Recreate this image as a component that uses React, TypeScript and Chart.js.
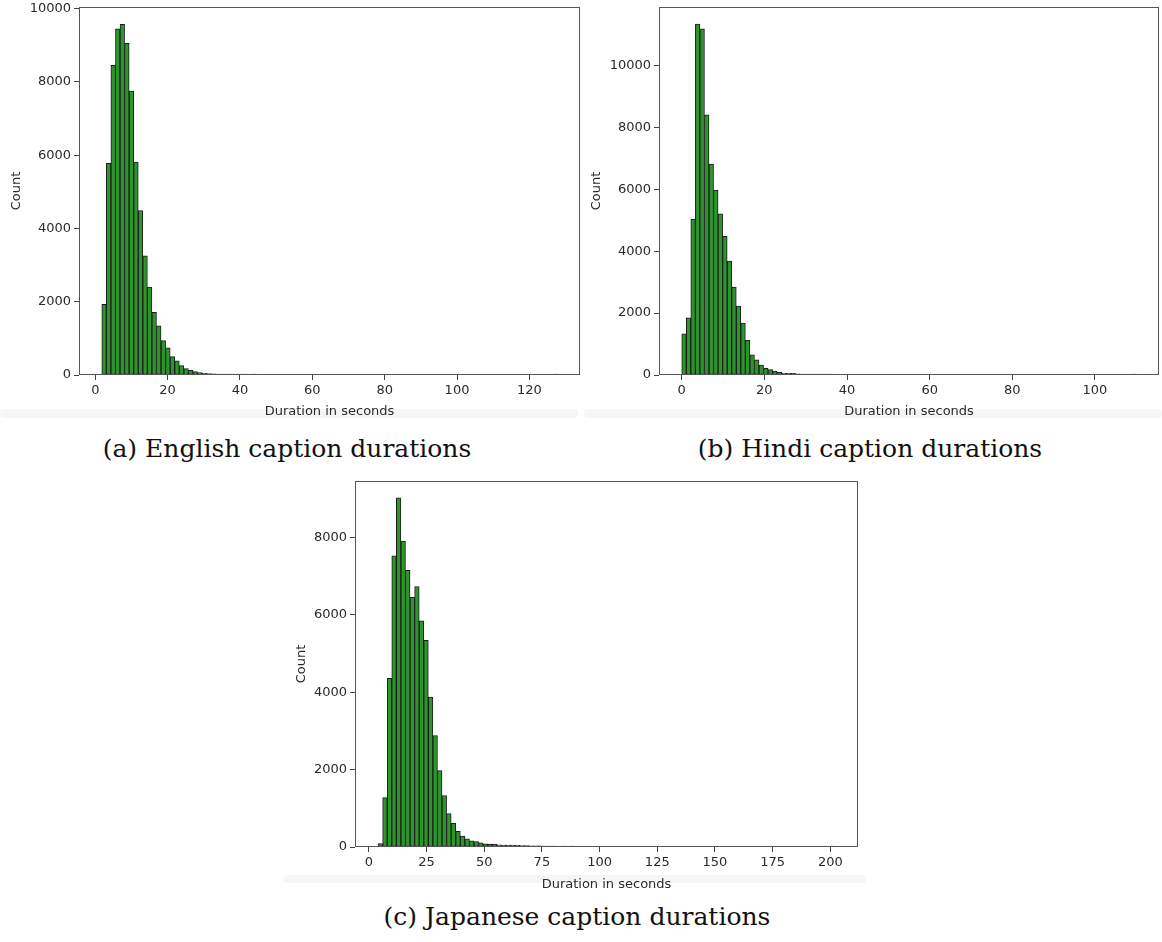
import React, { useEffect, useRef } from "react";
import { Chart, registerables } from "chart.js";

Chart.register(...registerables);

// ---------- data ----------
// (a) English caption durations: 100 bins, width 1.26 s starting at 1.8 s
const englishBinStart = 1.8;
const englishBinWidth = 1.26;
const englishCounts = [
  1930, 5780, 8450, 9450, 9570, 9050, 7750, 5810, 4490, 3250,
  2400, 1710, 1340, 940, 740, 500, 390, 260, 175, 130,
  92, 66, 48, 42, 35, 28, 22, 18, 14, 12,
  10, 8, 0, 6, 0, 0, 0, 0, 0, 0,
  0, 0, 0, 0, 0, 0, 0, 0, 0, 0,
  0, 0, 0, 0, 0, 0, 0, 0, 0, 0,
  0, 0, 0, 0, 0, 0, 0, 0, 0, 0,
  0, 0, 0, 0, 0, 0, 0, 0, 0, 0,
  0, 0, 0, 0, 0, 0, 0, 0, 0, 0,
  0, 0, 0, 0, 0, 0, 0, 0, 0, 1,
];
const englishXTicks = [0, 20, 40, 60, 80, 100, 120];
const englishYTicks = [0, 2000, 4000, 6000, 8000, 10000];

// (b) Hindi caption durations: 100 bins, width 1.1 s starting at 0 s
const hindiBinStart = 0;
const hindiBinWidth = 1.1;
const hindiCounts = [
  1330, 1850, 5040, 11340, 11190, 8410, 6820, 5980, 5210, 4480,
  3680, 2840, 2230, 1680, 1120, 655, 490, 324, 216, 173,
  130, 86, 65, 54, 50, 40, 32, 28, 25, 20,
  15, 12, 10, 0, 0, 0, 0, 0, 0, 0,
  0, 0, 0, 0, 0, 0, 0, 0, 0, 0,
  0, 0, 0, 0, 0, 0, 0, 0, 0, 0,
  0, 0, 0, 0, 0, 0, 0, 0, 0, 0,
  0, 0, 0, 0, 0, 0, 0, 0, 0, 0,
  0, 0, 0, 0, 0, 0, 0, 0, 0, 0,
  0, 0, 0, 0, 0, 0, 0, 0, 0, 1,
];
const hindiXTicks = [0, 20, 40, 60, 80, 100];
const hindiYTicks = [0, 2000, 4000, 6000, 8000, 10000];

// (c) Japanese caption durations: 100 bins, width 1.98 s starting at 4.0 s
const japaneseBinStart = 4.0;
const japaneseBinWidth = 1.98;
const japaneseCounts = [
  86, 1276, 4360, 7520, 9020, 7900, 7150, 6450, 6730, 5840,
  5340, 3870, 2880, 1975, 1330, 862, 612, 405, 280, 210,
  160, 140, 105, 80, 78, 75, 55, 52, 50, 48,
  45, 35, 35, 30, 30, 28, 25, 20, 15, 0,
  12, 0, 10, 0, 0, 0, 0, 0, 0, 0,
  0, 0, 0, 0, 0, 0, 0, 0, 0, 0,
  0, 0, 0, 0, 0, 0, 0, 0, 0, 0,
  0, 0, 0, 0, 0, 0, 0, 0, 0, 0,
  0, 0, 0, 0, 0, 0, 0, 0, 0, 0,
  0, 0, 0, 0, 0, 0, 0, 0, 0, 1,
];
const japaneseXTicks = [0, 25, 50, 75, 100, 125, 150, 175, 200];
const japaneseYTicks = [0, 2000, 4000, 6000, 8000];

// ---------- styles ----------
const BAR_FILL = "rgb(44,150,44)";
const BAR_EDGE = "#1c1c1c";
const TEXT_COLOR = "#2a2a2a";
const TICK_COLOR = "#444";
const FRAME_COLOR = "#555";
const AXIS_FONT = { family: "'DejaVu Sans', sans-serif", size: 13 };

const framePlugin = {
  id: "frame",
  afterDraw(chart: any) {
    const { ctx, chartArea: a } = chart;
    ctx.save();
    ctx.strokeStyle = FRAME_COLOR;
    ctx.lineWidth = 1;
    ctx.strokeRect(
      Math.round(a.left) + 0.5,
      Math.round(a.top) + 0.5,
      Math.round(a.right - a.left) - 1,
      Math.round(a.bottom - a.top) - 1
    );
    ctx.restore();
  },
};

type HistProps = {
  counts: number[];
  binStart: number;
  binWidth: number;
  xMin: number;
  xMax: number;
  xTicks: number[];
  yMax: number;
  yTicks: number[];
  left: number;
  top: number;
  width: number;
  height: number;
  yAxisWidth: number;
  xAxisHeight: number;
  padTop: number;
  padRight: number;
};

function Histogram(p: HistProps) {
  const ref = useRef<HTMLCanvasElement>(null);
  useEffect(() => {
    const points = p.counts.map((c, i) => ({
      x: p.binStart + (i + 0.5) * p.binWidth,
      y: c > 0 ? c : null,
    }));
    const grid = {
      display: true,
      drawOnChartArea: false,
      drawTicks: true,
      tickLength: 5,
      color: TICK_COLOR,
      offset: false,
    };
    const chart = new Chart(ref.current as HTMLCanvasElement, {
      type: "bar",
      data: {
        datasets: [
          {
            data: points as any,
            backgroundColor: BAR_FILL,
            borderColor: BAR_EDGE,
            borderWidth: 1,
            borderSkipped: false,
            barPercentage: 1,
            categoryPercentage: 1,
            minBarLength: 1,
          },
        ],
      },
      options: {
        responsive: false,
        animation: false,
        events: [],
        layout: { padding: { top: p.padTop, right: p.padRight, left: 0, bottom: 0 } },
        plugins: { legend: { display: false }, tooltip: { enabled: false } },
        scales: {
          x: {
            type: "linear",
            min: p.xMin,
            max: p.xMax,
            offset: false,
            grid,
            border: { display: false },
            ticks: {
              color: TEXT_COLOR,
              font: AXIS_FONT,
              padding: 3,
              maxRotation: 0,
              autoSkip: false,
              callback: (v: any) => String(v),
            },
            afterBuildTicks: (s: any) => {
              s.ticks = p.xTicks.map((v) => ({ value: v }));
            },
            afterFit: (s: any) => {
              s.height = p.xAxisHeight;
            },
            title: {
              display: true,
              text: "Duration in seconds",
              color: TEXT_COLOR,
              font: AXIS_FONT,
              padding: { top: 4, bottom: 4 },
            },
          },
          y: {
            type: "linear",
            min: 0,
            max: p.yMax,
            grid,
            border: { display: false },
            ticks: {
              color: TEXT_COLOR,
              font: AXIS_FONT,
              padding: 3,
              autoSkip: false,
              callback: (v: any) => String(v),
            },
            afterBuildTicks: (s: any) => {
              s.ticks = p.yTicks.map((v) => ({ value: v }));
            },
            afterFit: (s: any) => {
              s.width = p.yAxisWidth;
            },
            title: {
              display: true,
              text: "Count",
              color: TEXT_COLOR,
              font: AXIS_FONT,
              padding: { top: 4, bottom: 4 },
            },
          },
        },
      } as any,
      plugins: [framePlugin],
    });
    return () => chart.destroy();
  }, []);
  return (
    <canvas
      ref={ref}
      width={p.width}
      height={p.height}
      style={{ position: "absolute", left: p.left, top: p.top, width: p.width, height: p.height }}
    />
  );
}

const captionStyle = (cx: number, cy: number): React.CSSProperties => ({
  position: "absolute",
  left: cx - 300,
  top: cy - 16,
  width: 600,
  height: 32,
  lineHeight: "32px",
  textAlign: "center",
  fontFamily: "'DejaVu Serif', serif",
  fontSize: 25,
  color: "#111",
  whiteSpace: "nowrap",
});

const bandStyle = (left: number, top: number, width: number, height: number): React.CSSProperties => ({
  position: "absolute",
  left,
  top,
  width,
  height,
  background: "#f6f6f6",
  borderRadius: 4,
});

export default function App() {
  return (
    <div
      style={{
        position: "fixed",
        left: 0,
        top: 0,
        width: 1162,
        height: 942,
        background: "#fff",
        overflow: "hidden",
      }}
    >
      <div style={bandStyle(0, 409, 578, 9)} />
      <div style={bandStyle(584, 409, 578, 9)} />
      <div style={bandStyle(284, 875, 582, 8)} />

      <Histogram
        counts={englishCounts}
        binStart={englishBinStart}
        binWidth={englishBinWidth}
        xMin={-4.5}
        xMax={134}
        xTicks={englishXTicks}
        yMax={10050}
        yTicks={englishYTicks}
        left={5}
        top={-4}
        width={577}
        height={427}
        yAxisWidth={74}
        xAxisHeight={48}
        padTop={8}
        padRight={2}
      />
      <Histogram
        counts={hindiCounts}
        binStart={hindiBinStart}
        binWidth={hindiBinWidth}
        xMin={-5.5}
        xMax={115.5}
        xTicks={hindiXTicks}
        yMax={11900}
        yTicks={hindiYTicks}
        left={585}
        top={-4}
        width={576}
        height={427}
        yAxisWidth={74}
        xAxisHeight={48}
        padTop={7}
        padRight={2}
      />
      <Histogram
        counts={japaneseCounts}
        binStart={japaneseBinStart}
        binWidth={japaneseBinWidth}
        xMin={-6}
        xMax={212}
        xTicks={japaneseXTicks}
        yMax={9460}
        yTicks={japaneseYTicks}
        left={290}
        top={470}
        width={570}
        height={426}
        yAxisWidth={65}
        xAxisHeight={49}
        padTop={8}
        padRight={2}
      />

      <div style={captionStyle(287, 449)}>(a) English caption durations</div>
      <div style={captionStyle(870, 449)}>(b) Hindi caption durations</div>
      <div style={captionStyle(577, 917)}>(c) Japanese caption durations</div>
    </div>
  );
}
